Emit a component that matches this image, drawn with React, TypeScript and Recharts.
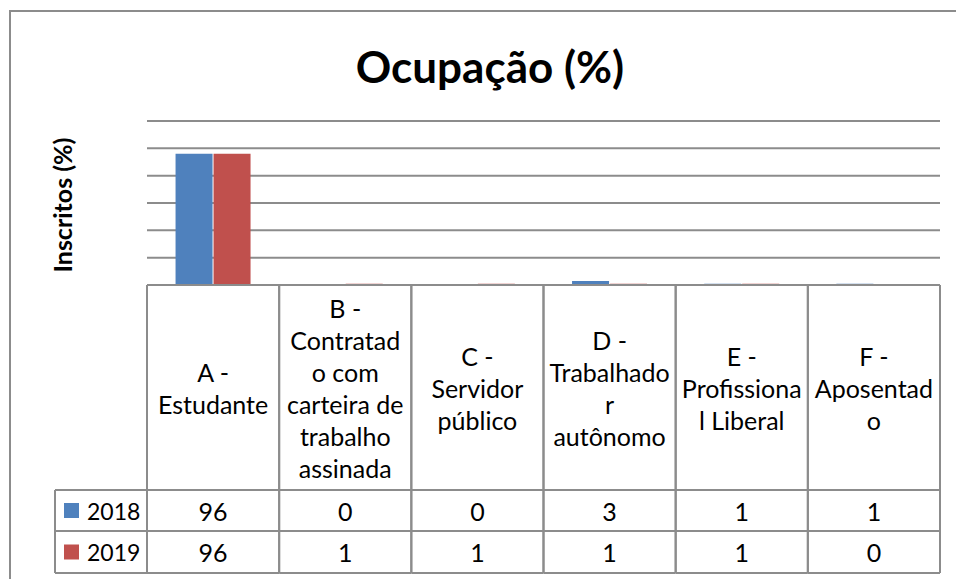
import { BarChart, Bar, XAxis, YAxis, CartesianGrid } from "recharts";

const categories = [
  "A -\nEstudante",
  "B -\nContratad\no com\ncarteira de\ntrabalho\nassinada",
  "C -\nServidor\npúblico",
  "D -\nTrabalhado\nr\nautônomo",
  "E -\nProfissiona\nl Liberal",
  "F -\nAposentad\no",
];
const values2018 = [96, 0, 0, 3, 1, 1];
const values2019 = [96, 1, 1, 1, 1, 0];
const seriesNames = ["2018", "2019"];
const yTicks = [0, 20, 40, 60, 80, 100, 120];

const W = 956;
const H = 579;
const plotLeft = 147;
const plotRight = 940;
const plotTop = 121;
const plotBottom = 285;
const headerBottom = 490;
const row1Bottom = 531;
const row2Bottom = 573;
const legendLeft = 55;

const BLUE = "#4F81BD";
const RED = "#C0504D";
const LINE = "#8c8c8c";
const FONT = "Lato, 'Open Sans', sans-serif";
const cellFont = 25;
const legendFont = 23;

const data = categories.map((cat, i) => ({
  cat,
  s2018: values2018[i],
  s2019: values2019[i],
}));

function TableTick(props: any) {
  const { x, payload, index } = props;
  const bw = (plotRight - plotLeft) / categories.length;
  const left = x - bw / 2;
  const right = x + bw / 2;
  const lines = String(payload.value).split("\n");
  const lh = 32;
  const headerMid = (plotBottom + headerBottom) / 2;
  const firstY = headerMid - ((lines.length - 1) * lh) / 2;
  const row1Mid = (headerBottom + row1Bottom) / 2;
  const row2Mid = (row1Bottom + row2Bottom) / 2;
  const rows = [values2018[index], values2019[index]];
  const colors = [BLUE, RED];

  return (
    <g>
      <line x1={left} x2={right} y1={plotBottom} y2={plotBottom} stroke={LINE} strokeWidth={2} />
      <line x1={left} x2={right} y1={headerBottom} y2={headerBottom} stroke={LINE} strokeWidth={2} />
      <line x1={left} x2={right} y1={row1Bottom} y2={row1Bottom} stroke={LINE} strokeWidth={2} />
      <line x1={left} x2={right} y1={row2Bottom} y2={row2Bottom} stroke={LINE} strokeWidth={2} />
      <line x1={left} x2={left} y1={plotBottom} y2={row2Bottom} stroke={LINE} strokeWidth={2} />
      <line x1={right} x2={right} y1={plotBottom} y2={row2Bottom} stroke={LINE} strokeWidth={2} />
      {lines.map((l, k) => (
        <text
          key={k}
          x={x}
          y={firstY + k * lh}
          textAnchor="middle"
          dominantBaseline="central"
          fontFamily={FONT}
          fontSize={cellFont}
          fill="#000"
        >
          {l}
        </text>
      ))}
      {rows.map((v, k) => (
        <text
          key={"v" + k}
          x={x}
          y={k === 0 ? row1Mid : row2Mid}
          textAnchor="middle"
          dominantBaseline="central"
          fontFamily={FONT}
          fontSize={cellFont}
          fill="#000"
        >
          {v}
        </text>
      ))}
      {index === 0 && (
        <g>
          <line x1={legendLeft} x2={left} y1={headerBottom} y2={headerBottom} stroke={LINE} strokeWidth={2} />
          <line x1={legendLeft} x2={left} y1={row1Bottom} y2={row1Bottom} stroke={LINE} strokeWidth={2} />
          <line x1={legendLeft} x2={left} y1={row2Bottom} y2={row2Bottom} stroke={LINE} strokeWidth={2} />
          <line x1={legendLeft} x2={legendLeft} y1={headerBottom} y2={row2Bottom} stroke={LINE} strokeWidth={2} />
          {seriesNames.map((name, k) => {
            const mid = k === 0 ? row1Mid : row2Mid;
            return (
              <g key={name}>
                <rect x={64} y={mid - 7.5} width={15} height={15} fill={colors[k]} />
                <text
                  x={87}
                  y={mid}
                  dominantBaseline="central"
                  fontFamily={FONT}
                  fontSize={legendFont}
                  fill="#000"
                >
                  {name}
                </text>
              </g>
            );
          })}
        </g>
      )}
    </g>
  );
}

export default function App() {
  return (
    <div style={{ position: "fixed", left: 0, top: 0, width: W, height: H, overflow: "hidden", background: "#fff" }}>
      <div
        style={{
          position: "absolute",
          left: 9,
          top: 10,
          width: 1000,
          height: 700,
          border: `2px solid ${LINE}`,
          boxSizing: "border-box",
        }}
      />
      <div
        style={{
          position: "absolute",
          left: 0,
          width: 980,
          top: 36,
          textAlign: "center",
          fontFamily: FONT,
          fontWeight: 700,
          fontSize: 44,
          lineHeight: "60px",
          color: "#000",
        }}
      >
        Ocupação (%)
      </div>
      <div
        style={{
          position: "absolute",
          left: 62,
          top: 205,
          transform: "translate(-50%, -50%) rotate(-90deg)",
          whiteSpace: "nowrap",
          fontFamily: FONT,
          fontWeight: 700,
          fontSize: 25,
          color: "#000",
        }}
      >
        Inscritos (%)
      </div>
      <div style={{ position: "absolute", left: 0, top: 0 }}>
        <BarChart
          width={W}
          height={H}
          data={data}
          margin={{ top: plotTop, right: W - plotRight, left: plotLeft, bottom: 0 }}
          barCategoryGap="21.6%"
          barGap={1}
        >
          <CartesianGrid vertical={false} stroke={LINE} strokeWidth={2} />
          <YAxis hide type="number" domain={[0, 120]} ticks={yTicks} />
          <XAxis
            dataKey="cat"
            height={H - plotBottom}
            axisLine={false}
            tickLine={false}
            tickSize={0}
            tickMargin={0}
            interval={0}
            tick={<TableTick />}
          />
          <Bar dataKey="s2018" name={seriesNames[0]} fill={BLUE} isAnimationActive={false} />
          <Bar dataKey="s2019" name={seriesNames[1]} fill={RED} isAnimationActive={false} />
        </BarChart>
      </div>
    </div>
  );
}
